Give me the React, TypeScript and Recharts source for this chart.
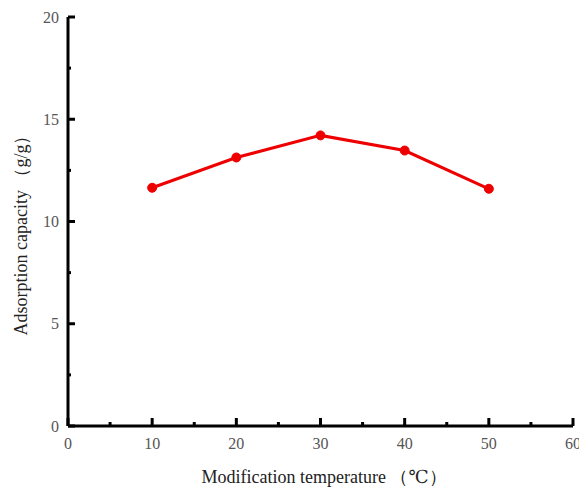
import { LineChart, Line, XAxis, YAxis, Label } from "recharts";

const temperatures = [10, 20, 30, 40, 50];
const capacity = [11.65, 13.13, 14.21, 13.47, 11.6];
const xTicks = [0, 5, 10, 15, 20, 25, 30, 35, 40, 45, 50, 55, 60];
const yTicks = [0, 2.5, 5, 7.5, 10, 12.5, 15, 17.5, 20];

const FONT = "'Liberation Serif', 'DejaVu Serif', serif";
const MARGIN = 20;

const data = temperatures.map((t, i) => ({ temp: t, value: capacity[i] }));

const XTick = (props: any) => {
  const { x, y, payload } = props;
  const v = payload.value;
  const major = v % 10 === 0;
  const axisY = y - MARGIN;
  return (
    <g>
      <line x1={x} x2={x} y1={axisY} y2={axisY - (major ? 8 : 4)} stroke="#000" strokeWidth={3} />
      {major && (
        <text x={x} y={axisY + 17} textAnchor="middle" dominantBaseline="central" fontFamily={FONT} fontSize={16} fill="#555">
          {v}
        </text>
      )}
    </g>
  );
};

const YTick = (props: any) => {
  const { x, y, payload } = props;
  const v = payload.value;
  const major = v % 5 === 0;
  const axisX = x + MARGIN;
  return (
    <g>
      <line x1={axisX} x2={axisX + (major ? 7 : 3)} y1={y} y2={y} stroke="#000" strokeWidth={3} />
      {major && (
        <text x={axisX - 9} y={y} textAnchor="end" dominantBaseline="central" fontFamily={FONT} fontSize={16} fill="#555">
          {v}
        </text>
      )}
    </g>
  );
};

const YTitle = () => (
  <text
    x={21}
    y={231}
    transform="rotate(-90 21 231)"
    textAnchor="middle"
    dominantBaseline="central"
    fontFamily={FONT}
    fontSize={18}
    fill="#222"
  >
    Adsorption capacity （g/g）
  </text>
);

const XTitle = () => (
  <text x={324} y={477} textAnchor="middle" dominantBaseline="central" fontFamily={FONT} fontSize={18} fill="#222">
    Modification temperature （℃）
  </text>
);

export default function App() {
  return (
    <div style={{ position: "absolute", left: 0, top: 0, width: 579, height: 491, background: "#fff" }}>
      <LineChart width={579} height={491} data={data} margin={{ top: 17, right: 6, left: 0, bottom: 0 }}>
        <XAxis
          type="number"
          dataKey="temp"
          domain={[0, 60]}
          ticks={xTicks}
          interval={0}
          height={65}
          axisLine={{ stroke: "#000", strokeWidth: 3 }}
          tickLine={false}
          tickSize={0}
          tickMargin={MARGIN}
          tick={<XTick />}
        >
          <Label content={<XTitle />} />
        </XAxis>
        <YAxis
          type="number"
          domain={[0, 20]}
          ticks={yTicks}
          interval={0}
          width={68}
          axisLine={{ stroke: "#000", strokeWidth: 3 }}
          tickLine={false}
          tickSize={0}
          tickMargin={MARGIN}
          tick={<YTick />}
        >
          <Label content={<YTitle />} />
        </YAxis>
        <Line
          type="linear"
          dataKey="value"
          stroke="#ee0000"
          strokeWidth={3}
          dot={{ r: 4.5, fill: "#ee0000", stroke: "#ee0000", strokeWidth: 1 }}
          isAnimationActive={false}
        />
      </LineChart>
    </div>
  );
}
